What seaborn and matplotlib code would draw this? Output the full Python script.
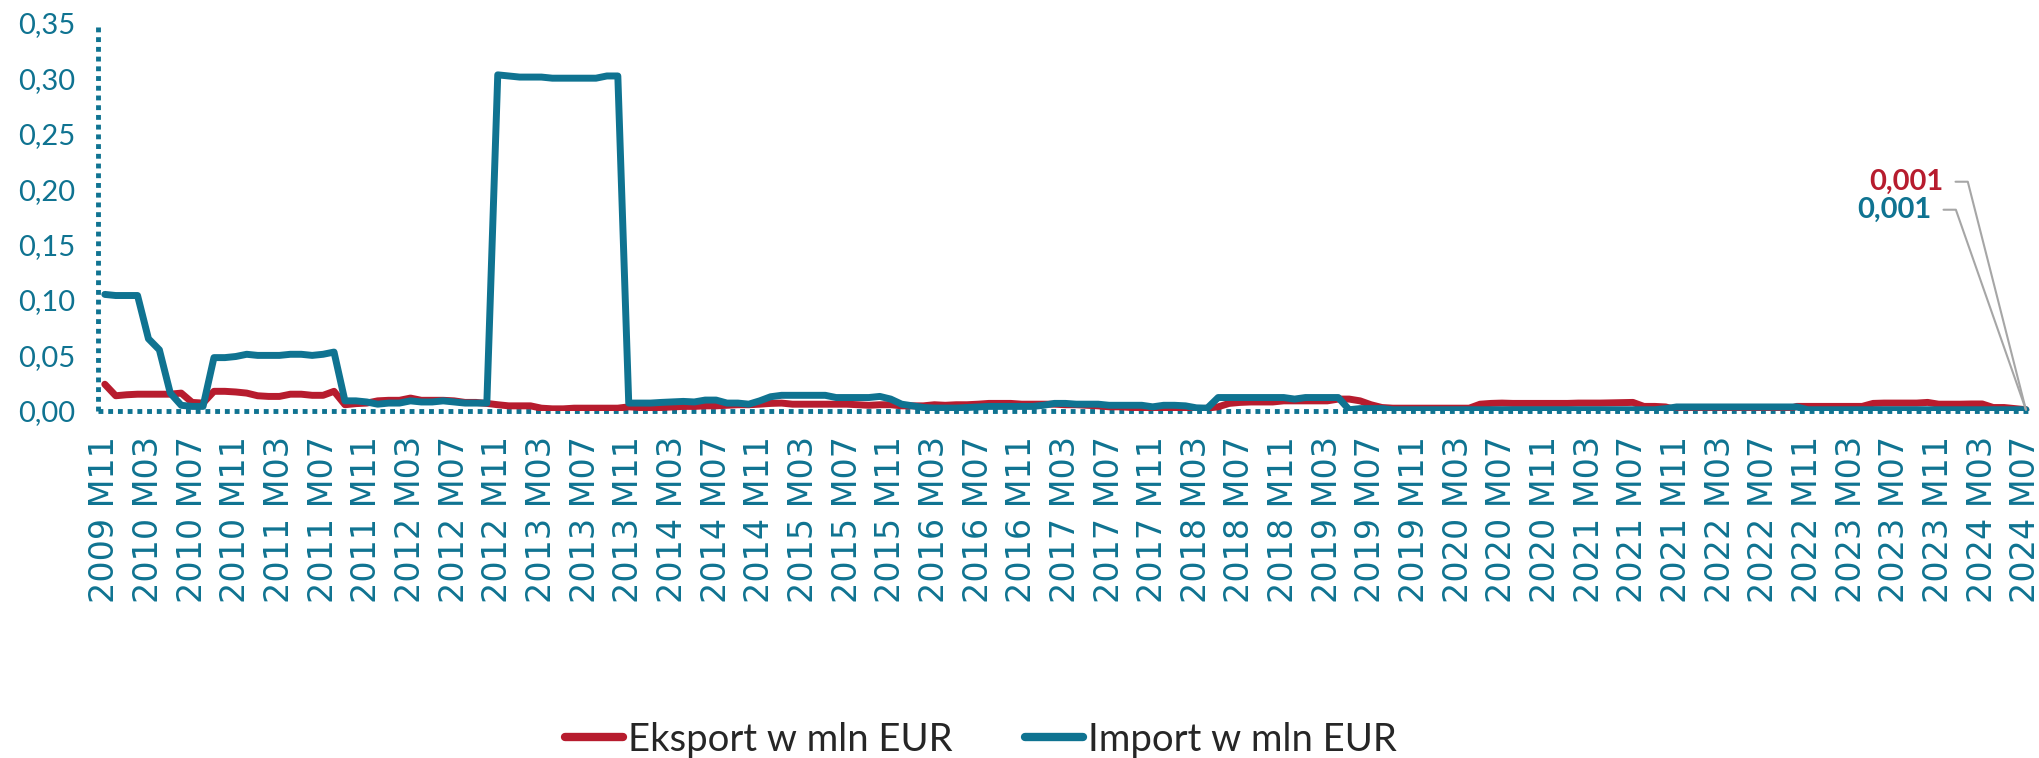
import pandas as pd
import seaborn as sns
import matplotlib.pyplot as plt
from matplotlib.ticker import FuncFormatter

# Miesiące: 2009 M11 .. 2024 M07
okresy = pd.period_range("2009-11", "2024-07", freq="M")
etykiety = [f"{p.year} M{p.month:02d}" for p in okresy]

# Eksport w mln EUR (odczyt z wykresu)
eksport = [
    0.024, 0.0136,
    0.0145, 0.015, 0.015, 0.015, 0.015, 0.016, 0.0076, 0.007, 0.0176, 0.0176, 0.017, 0.016,
    0.0136, 0.013, 0.013, 0.015, 0.015, 0.014, 0.014, 0.0176, 0.0055, 0.0065, 0.007, 0.009,
    0.0095, 0.0095, 0.0115, 0.0095, 0.0095, 0.0095, 0.009, 0.0076, 0.0076, 0.0067, 0.0055, 0.0045,
    0.0045, 0.0045, 0.0024, 0.0018, 0.0018, 0.0024, 0.0024, 0.0024, 0.0024, 0.0024, 0.0036, 0.003,
    0.003, 0.003, 0.0035, 0.004, 0.004, 0.0045, 0.0045, 0.005, 0.0055, 0.0055, 0.006, 0.0067,
    0.007, 0.006, 0.006, 0.006, 0.006, 0.006, 0.006, 0.0055, 0.005, 0.0055, 0.0055, 0.0045,
    0.0045, 0.0045, 0.0055, 0.005, 0.0055, 0.0055, 0.006, 0.0067, 0.0067, 0.0067, 0.006, 0.006,
    0.006, 0.006, 0.0055, 0.0055, 0.005, 0.0045, 0.0036, 0.0036, 0.003, 0.003, 0.0024, 0.0024,
    0.0024, 0.0015, 0.0015, 0.0024, 0.0036, 0.0067, 0.0076, 0.008, 0.008, 0.008, 0.009, 0.009,
    0.009, 0.009, 0.009, 0.0106, 0.0106, 0.009, 0.0055, 0.003, 0.0024, 0.0024, 0.0024, 0.0024,
    0.0024, 0.0024, 0.0024, 0.0024, 0.006, 0.0067, 0.007, 0.0067, 0.0067, 0.0067, 0.0067, 0.0067,
    0.0067, 0.007, 0.007, 0.007, 0.0072, 0.0074, 0.0076, 0.004, 0.004, 0.0035, 0.0008, 0.0008,
    0.0008, 0.0008, 0.0008, 0.0008, 0.0008, 0.0008, 0.0008, 0.0008, 0.0008, 0.004, 0.004, 0.004,
    0.004, 0.004, 0.004, 0.004, 0.0067, 0.007, 0.007, 0.007, 0.007, 0.0076, 0.006, 0.006,
    0.006, 0.0062, 0.0062, 0.003, 0.003, 0.002, 0.001,
]

# Import w mln EUR (odczyt z wykresu)
import_ = [
    0.105, 0.104,
    0.104, 0.104, 0.065, 0.055, 0.016, 0.005, 0.004, 0.004, 0.048, 0.048, 0.049, 0.051,
    0.050, 0.050, 0.050, 0.051, 0.051, 0.050, 0.051, 0.053, 0.009, 0.009, 0.008, 0.006,
    0.007, 0.007, 0.009, 0.008, 0.008, 0.009, 0.008, 0.007, 0.007, 0.007, 0.303, 0.302,
    0.301, 0.301, 0.301, 0.300, 0.300, 0.300, 0.300, 0.300, 0.302, 0.302, 0.007, 0.007,
    0.007, 0.0076, 0.008, 0.0085, 0.008, 0.0097, 0.0097, 0.007, 0.007, 0.006, 0.009, 0.0127,
    0.014, 0.014, 0.014, 0.014, 0.014, 0.012, 0.012, 0.012, 0.012, 0.013, 0.0106, 0.006,
    0.0045, 0.003, 0.0025, 0.0025, 0.0025, 0.003, 0.0036, 0.004, 0.004, 0.004, 0.004, 0.004,
    0.005, 0.0067, 0.0067, 0.006, 0.006, 0.006, 0.005, 0.005, 0.005, 0.005, 0.0036, 0.005,
    0.005, 0.0045, 0.0027, 0.0024, 0.012, 0.012, 0.012, 0.012, 0.012, 0.012, 0.012, 0.0106,
    0.012, 0.012, 0.012, 0.012, 0.001, 0.002, 0.002, 0.002, 0.001, 0.001, 0.001, 0.001,
    0.001, 0.001, 0.001, 0.001, 0.001, 0.001, 0.001, 0.001, 0.001, 0.001, 0.001, 0.001,
    0.001, 0.001, 0.001, 0.001, 0.001, 0.001, 0.001, 0.001, 0.001, 0.002, 0.0035, 0.0035,
    0.0035, 0.0035, 0.0035, 0.0035, 0.0035, 0.0035, 0.0035, 0.0035, 0.0035, 0.0035, 0.001, 0.001,
    0.001, 0.001, 0.001, 0.001, 0.001, 0.001, 0.001, 0.001, 0.001, 0.001, 0.001, 0.001,
    0.001, 0.001, 0.001, 0.001, 0.001, 0.001, 0.001,
]

serie = ["Eksport w mln EUR", "Import w mln EUR"]
kolory = {"Eksport w mln EUR": "#B71C2E", "Import w mln EUR": "#0F7391"}
niebieski = "#0F7391"

n = len(etykiety)
df = pd.DataFrame({
    "idx": list(range(n)) * 2,
    "wartosc": eksport + import_,
    "seria": [serie[0]] * n + [serie[1]] * n,
})

sns.set_theme(style="white")
plt.rcParams["font.family"] = ["Lato", "DejaVu Sans"]

fig = plt.figure(figsize=(20.4, 7.58), dpi=100)
ax = fig.add_axes([0.048, 0.458, 0.9475, 0.512])

sns.lineplot(data=df, x="idx", y="wartosc", hue="seria", palette=kolory,
             linewidth=5, ax=ax, sort=False, zorder=3)

ax.set_xlim(-0.63, n - 0.55)
ax.set_ylim(0, 0.35)
ax.set_yticks([0, 0.05, 0.10, 0.15, 0.20, 0.25, 0.30, 0.35])
ax.yaxis.set_major_formatter(FuncFormatter(lambda v, _: f"{v:.2f}".replace(".", ",")))
ax.set_xticks(range(0, n, 4))
ax.set_xticklabels(etykiety[::4], rotation=90, fontfamily="DejaVu Sans",
                   fontsize=24, color=niebieski)
ax.tick_params(axis="x", length=0, pad=18)
ax.tick_params(axis="y", length=0, pad=16, labelsize=21, labelcolor=niebieski)
ax.set_xlabel("")
ax.set_ylabel("")

# osie kropkowane
for s in ax.spines.values():
    s.set_visible(False)
ax.plot([0, 0], [0, 1], transform=ax.transAxes, color=niebieski, lw=3.5,
        linestyle=(0, (1, 1)), clip_on=False, zorder=2)
ax.plot([0, 1], [0, 0], transform=ax.transAxes, color=niebieski, lw=3.5,
        linestyle=(0, (1, 1)), clip_on=False, zorder=2)

# etykiety ostatnich wartości
ostatnie = [(eksport[-1], kolory[serie[0]], (-82, 228), 104.3),
            (import_[-1], kolory[serie[1]], (-94, 200), 109.3)]
for wart, kol, off, kat in ostatnie:
    ax.annotate(f"{wart:.3f}".replace(".", ","), xy=(n - 1, wart),
                xytext=off, textcoords="offset pixels",
                ha="right", va="center", fontsize=21, fontweight="bold", color=kol,
                arrowprops=dict(arrowstyle="-", color="#A6A6A6", lw=1.5,
                                relpos=(1, 0.5), shrinkA=6, shrinkB=0,
                                connectionstyle=f"angle,angleA=0,angleB={kat},rad=0"))

handles, labels = ax.get_legend_handles_labels()
ax.get_legend().remove()
for h in handles:
    h.set_linewidth(6)
fig.legend(handles, labels, loc="center", bbox_to_anchor=(0.481, 0.024), ncol=2,
           frameon=False, fontsize=27.5, handlelength=1.5, handletextpad=0.15,
           columnspacing=1.9)

fig.savefig("out.png", dpi=100)
